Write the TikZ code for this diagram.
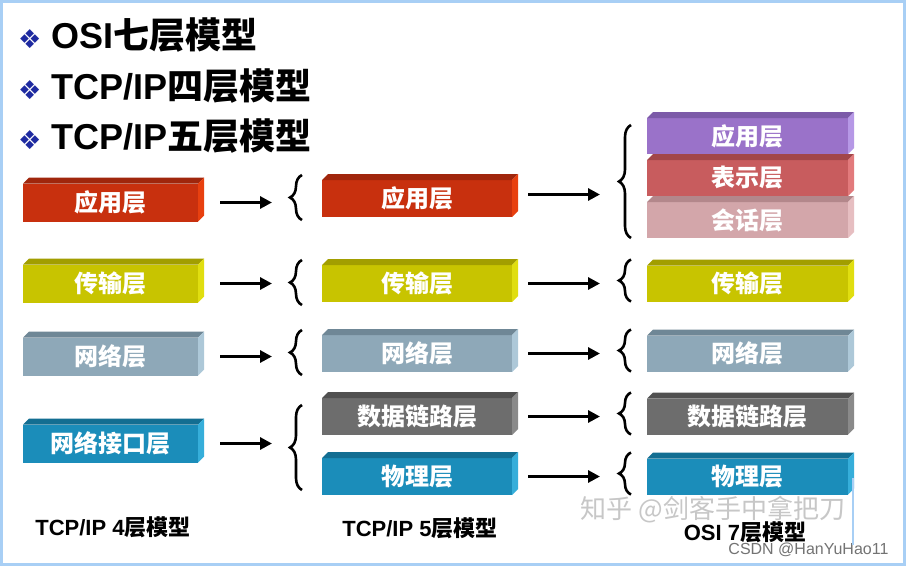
\documentclass[tikz,border=0pt]{standalone}
\usepackage{fontspec}
\setmainfont{Liberation Sans}
\newfontfamily\cjk{Noto Sans CJK SC}
\newfontfamily\sym{DejaVu Sans}
\usepackage{tikz}
\usetikzlibrary{arrows.meta,positioning,decorations.pathreplacing}

% layer colours: front / top / side
\definecolor{frontRed}{HTML}{C8300E}\definecolor{topRed}{HTML}{A0260C}\definecolor{sideRed}{HTML}{E8400F}
\definecolor{frontYel}{HTML}{C8C400}\definecolor{topYel}{HTML}{A29E00}\definecolor{sideYel}{HTML}{E0DE10}
\definecolor{frontNet}{HTML}{8EA8B8}\definecolor{topNet}{HTML}{6F8796}\definecolor{sideNet}{HTML}{ADC8D8}
\definecolor{frontTeal}{HTML}{1B8DBA}\definecolor{topTeal}{HTML}{136E92}\definecolor{sideTeal}{HTML}{36AEDA}
\definecolor{frontGry}{HTML}{6D6D6D}\definecolor{topGry}{HTML}{505050}\definecolor{sideGry}{HTML}{8A8A8A}
\definecolor{frontPur}{HTML}{9A72C9}\definecolor{topPur}{HTML}{7C5AA8}\definecolor{sidePur}{HTML}{B698E6}
\definecolor{frontRos}{HTML}{C85C5E}\definecolor{topRos}{HTML}{A24649}\definecolor{sideRos}{HTML}{E27A7C}
\definecolor{frontPnk}{HTML}{D3A6AA}\definecolor{topPnk}{HTML}{B3878B}\definecolor{sidePnk}{HTML}{E6BEC1}
\definecolor{bulBlue}{HTML}{1E2AA0}
\definecolor{frameBlue}{HTML}{A8CFF5}
\newcommand{\bul}{{\sym\fontsize{26}{26}\selectfont\color{bulBlue}❖}}

\begin{document}
\begin{tikzpicture}[x=1pt, y=-1pt,
  layer/.style={fill=front#1, inner sep=0pt, outer sep=0pt, text=white,
                font=\cjk\bfseries\fontsize{24}{26}\selectfont},
  c4/.style={minimum width=175pt, minimum height=38pt},
  c5/.style={minimum width=190pt, minimum height=37pt},
  c7/.style={minimum width=201pt, minimum height=36pt},
  title/.style={font=\bfseries\fontsize{36}{38}\selectfont, anchor=west, inner sep=0pt},
  caption/.style={font=\bfseries\fontsize{22}{24}\selectfont, inner sep=0pt},
  arr/.style={-{Triangle[length=12pt,width=12pt]}, line width=3.6pt},
  brc/.style={decorate, decoration={brace, amplitude=12pt}, line width=2.6pt},
]
  \useasboundingbox (0,0) rectangle (906,566);
  \fill[white] (0,0) rectangle (906,566);
  \draw[frameBlue, line width=3pt] (1.5,1.5) rectangle (904.5,564.5);

  % Headings
  \node[title] (h1) at (18,35) {\bul\ OSI{\cjk 七层模型}};
  \node[title] (h2) at (18,86) {\bul\ TCP/IP{\cjk 四层模型}};
  \node[title] (h3) at (18,136) {\bul\ TCP/IP{\cjk 五层模型}};

  % TCP/IP 4 layers (left)
  \node[layer=Red, c4] (a4) at (110.5,202.5) {应用层};
  \node[layer=Yel, c4, below=43pt of a4] (t4) {传输层};
  \node[layer=Net, c4, below=35pt of t4] (n4) {网络层};
  \node[layer=Teal, c4, below=49pt of n4] (l4) {网络接口层};

  % TCP/IP 5 layers (middle)
  \node[layer=Red, c5] (a5) at (417,198.5) {应用层};
  \node[layer=Yel, c5, below=48pt of a5] (t5) {传输层};
  \node[layer=Net, c5, below=33pt of t5] (n5) {网络层};
  \node[layer=Gry, c5, below=26pt of n5] (d5) {数据链路层};
  \node[layer=Teal, c5, below=23pt of d5] (p5) {物理层};

  % OSI 7 layers (right)
  \node[layer=Pur, c7] (a7) at (747.5,136) {应用层};
  \node[layer=Ros, c7, below=6pt of a7] (pr7) {表示层};
  \node[layer=Pnk, c7, below=6pt of pr7] (s7) {会话层};
  \node[layer=Yel, c7, right=135pt of t5] (t7) {传输层};
  \node[layer=Net, c7, right=135pt of n5] (n7) {网络层};
  \node[layer=Gry, c7, right=135pt of d5] (d7) {数据链路层};
  \node[layer=Teal, c7, right=135pt of p5] (p7) {物理层};

  % top and side faces
  \foreach \n/\c in {a4/Red, t4/Yel, n4/Net, l4/Teal, a5/Red, t5/Yel, n5/Net, d5/Gry, p5/Teal,
                     a7/Pur, pr7/Ros, s7/Pnk, t7/Yel, n7/Net, d7/Gry, p7/Teal}{
    \fill[fill=top\c] (\n.north west) -- (\n.north east) -- ++(6,-6)
      -- ([shift={(6,-6)}]\n.north west) -- cycle;
    \fill[fill=side\c] (\n.north east) -- (\n.south east) -- ++(6,-6)
      -- ([shift={(6,-6)}]\n.north east) -- cycle;
  }

  % Braces
  \foreach \n in {a5,t5,n5}
    \draw[brc] ([xshift=-20pt,yshift=-3pt]\n.south west) -- ([xshift=-20pt,yshift=5pt]\n.north west);
  \draw[brc] ([xshift=-20pt,yshift=5pt]p5.south west) -- ([xshift=-20pt,yshift=-7pt]d5.north west);
  \foreach \n in {t7,n7,d7,p7}
    \draw[brc] ([xshift=-16pt]\n.south west) -- ([xshift=-16pt,yshift=6pt]\n.north west);
  \draw[brc] ([xshift=-16pt]s7.south west) -- ([xshift=-16pt,yshift=-7pt]a7.north west);

  % Arrows
  \foreach \s/\t in {a4/a5, t4/t5, n4/n5, l4/d5}
    \draw[arr, shorten <=22pt, shorten >=50pt] (\s.east) -- (\s.east -| \t.west);
  \draw[arr, shorten <=16pt, shorten >=47pt] ([yshift=4pt]a5.east) -- ([yshift=4pt]a5.east -| a7.west);
  \foreach \s/\t in {t5/t7, n5/n7, d5/d7, p5/p7}
    \draw[arr, shorten <=16pt, shorten >=47pt] (\s.east) -- (\s.east -| \t.west);

  % Captions
  \node[caption] (cap4) at (113,527) {TCP/IP 4{\cjk 层模型}};
  \node[caption] (cap5) at (420,528) {TCP/IP 5{\cjk 层模型}};
  \node[caption] (cap7) at (745,532) {OSI 7{\cjk 层模型}};

  % Watermarks
  \node[font=\cjk\fontsize{26}{28}\selectfont, text=black!22] (wm) at (713,510) {知乎 @剑客手中拿把刀};
  \node[font=\fontsize{16}{18}\selectfont, text=black!55, anchor=east] (csdn) at (892,550) {CSDN @HanYuHao11};
  \draw[frameBlue, line width=2pt] (853,478) -- (853,545);
\end{tikzpicture}
\end{document}
